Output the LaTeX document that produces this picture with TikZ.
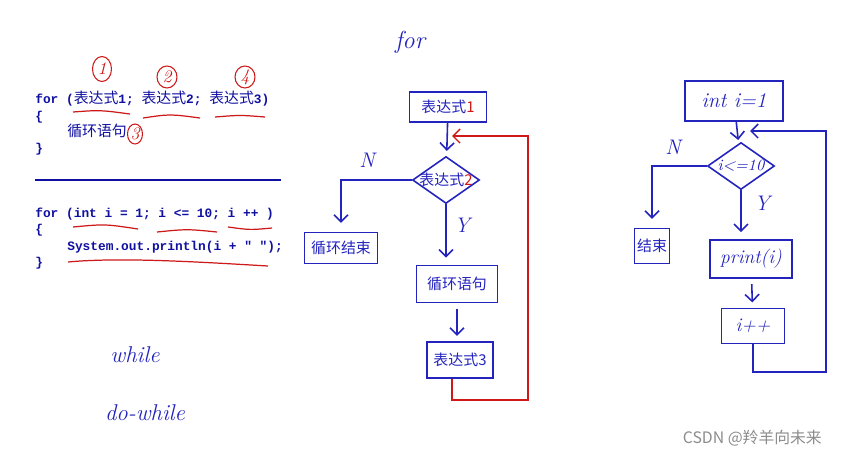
\documentclass[tikz,border=0pt]{standalone}
\usepackage{fontspec}
\newfontfamily\cjk{Noto Sans CJK SC}
\newfontfamily\codefont{Liberation Mono}
\newfontfamily\codecjk{Noto Sans CJK SC}[Scale=1.16]
\usetikzlibrary{shapes.geometric,arrows.meta,positioning}
\definecolor{codeblue}{RGB}{16,16,160}
\definecolor{handblue}{RGB}{35,35,190}
\definecolor{handred}{RGB}{205,25,25}

\begin{document}
\begin{tikzpicture}[
  x=0.02cm, y=-0.02cm,
  >={Straight Barb[length=4pt,width=8pt]},
  code/.style={anchor=base west, inner sep=0, text=codeblue,
               font=\codefont\bfseries\fontsize{7.3}{9}\selectfont},
  htxt/.style={text=handblue, font=\cjk\fontsize{8.5}{10}\selectfont},
  hbox/.style={rectangle, draw=handblue, line width=0.9pt, inner sep=1pt, htxt},
  hdiam/.style={diamond, draw=handblue, line width=0.9pt, inner sep=0,
                minimum width=1.34cm, minimum height=0.94cm},
  hlbl/.style={text=handblue, inner sep=0, font=\itshape\fontsize{10}{12}\selectfont},
  num/.style={ellipse, draw=handred, line width=0.6pt, text=handred, inner sep=0,
              minimum width=0.4cm, minimum height=0.44cm, font=\itshape\fontsize{10}{12}\selectfont},
  hl/.style={draw=handblue, line width=0.9pt},
  redl/.style={draw=handred, line width=0.8pt},
  under/.style={draw=handred, line width=0.7pt},
]
\useasboundingbox (0,0) rectangle (844,457);

\node[code] (c1)  at (35,103) {for ({\codecjk\mdseries 表达式}1; {\codecjk\mdseries 表达式}2; {\codecjk\mdseries 表达式}3)};
\node[code] (c1a) at (35,120) {\{};
\node[code, font=\codecjk\fontsize{7.3}{9}\selectfont] (c1b) at (67,136) {循环语句};
\node[code] (c1c) at (35,152) {\}};

\node[num, minimum width=0.38cm, minimum height=0.5cm] (n1) at (102,69) {1};
\node[num] (n2) at (167,77) {2};
\node[num] (n4) at (245,77) {4};
\node[num, minimum width=0.3cm, minimum height=0.4cm] (n3) at (135,134) {3};

\draw[under] (73,112) .. controls (100,110) .. (130,114);
\draw[under] (143,118) .. controls (170,114) .. (200,118);
\draw[under] (215,117) .. controls (240,115) .. (265,117);

\draw[codeblue, line width=1.2pt] (35,180) -- (281,180);

\node[code] (c2)  at (35,217) {for (int i = 1; i <= 10; i ++ )};
\node[code] (c2a) at (35,233) {\{};
\node[code] (c2b) at (67,250) {System.out.println(i + " ");};
\node[code] (c2c) at (35,266) {\}};

\draw[under] (73,227) .. controls (105,224) .. (138,229);
\draw[under] (157,232) .. controls (187,229) .. (217,232);
\draw[under] (228,227) .. controls (250,230) .. (272,228);
\draw[under] (68,262) .. controls (120,257) and (200,262) .. (268,266);

\node[hlbl, font=\itshape\fontsize{13}{15}\selectfont] (wh) at (135,355) {while};
\node[hlbl, font=\itshape\fontsize{13}{15}\selectfont] (dwh) at (145,413) {do-while};

\node[hlbl, font=\itshape\fontsize{14}{16}\selectfont] (ttl) at (410,42) {for};

\node[hbox, minimum width=1.54cm, minimum height=0.6cm] (ea) at (448,107) {表达式\textcolor{handred}{1}};
\node[hdiam, label={[htxt]center:表达式\textcolor{handred}{2}}] (eb) at (446,180) {};
\node[hbox, minimum width=1.46cm, minimum height=0.62cm] (ec) at (341,248) {循环结束};
\node[hbox, minimum width=1.62cm, minimum height=0.74cm] (ed) at (457,284) {循环语句};
\node[hbox, minimum width=1.32cm, minimum height=0.72cm] (ee) at (460,360) {表达式3};
\node[hlbl, font=\itshape\fontsize{12}{14}\selectfont] (en) at (367,160) {N};
\node[hlbl, font=\itshape\fontsize{12}{14}\selectfont] (ey) at (462,225) {Y};
\coordinate (eback) at (452,136);
\coordinate (eturn) at (528,400);

\draw[hl,->,shorten >=3pt] (ea) -- (eb);
\draw[hl,->,shorten >=5pt] (eb.west) -| (ec);
\draw[hl,->,shorten >=4pt] (eb.south) -- (eb.south |- ed.north);
\draw[hl,->,shorten >=3pt,shorten <=3pt] (ed.south) -- (ed.south |- ee.north);
\draw[redl,->] (ee.south -| eback) |- (eturn) |- (eback);

\node[hbox, font=\itshape\fontsize{12}{14}\selectfont, minimum width=1.96cm, minimum height=0.8cm] (ra) at (734,101) {int i=1};
\node[hdiam, label={[hlbl, font=\itshape\fontsize{9}{11}\selectfont]center:i<=10}] (rb) at (741,166) {};
\node[hbox, minimum width=0.7cm, minimum height=0.7cm] (rc) at (652,246) {结束};
\node[hbox, font=\itshape\fontsize{11}{13}\selectfont, minimum width=1.64cm, minimum height=0.76cm] (rd) at (751,259) {print(i)};
\node[hbox, font=\itshape\fontsize{11}{13}\selectfont, minimum width=1.26cm, minimum height=0.7cm] (re) at (753,326) {i++};
\node[hlbl, font=\itshape\fontsize{12}{14}\selectfont] (rn) at (673,147) {N};
\node[hlbl, font=\itshape\fontsize{12}{14}\selectfont] (ry) at (762,203) {Y};
\coordinate (rback) at (750,131);
\coordinate (rturn) at (826,372);

\draw[hl,->,shorten >=2pt] (ra) -- (rb);
\draw[hl,->,shorten >=5pt] (rb.west) -| (rc);
\draw[hl,->,shorten >=4pt] (rb.south) -- (rb.south |- rd.north);
\draw[hl,->,shorten >=3pt,shorten <=3pt] (rd) -- (re);
\draw[hl,->] (re.south) |- (rturn) |- (rback);

\node[anchor=east, text=black!45, font=\cjk\fontsize{9}{11}\selectfont] (mark) at (828,438) {CSDN @羚羊向未来};

\end{tikzpicture}
\end{document}
